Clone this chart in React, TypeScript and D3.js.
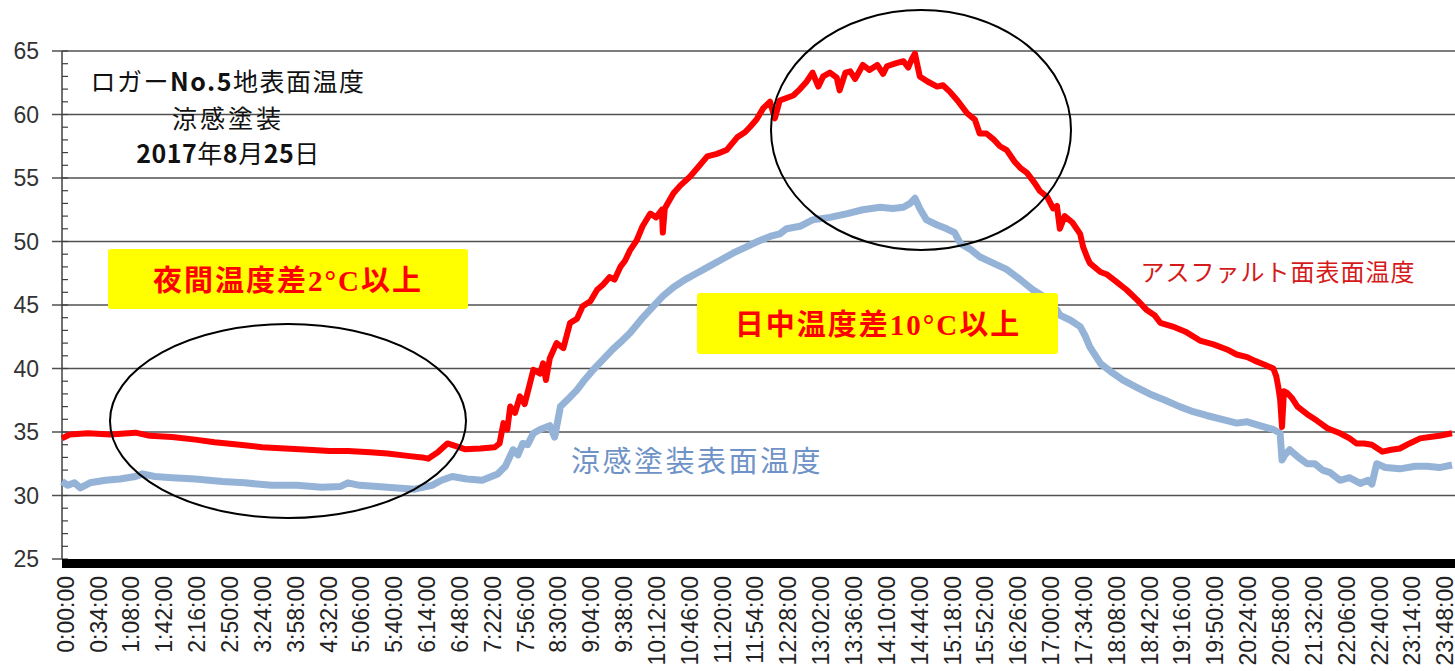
import React from "react";
import * as d3 from "d3";

// x-axis tick labels (every 34 minutes)
const timeLabels = [
  "0:00:00", "0:34:00", "1:08:00", "1:42:00", "2:16:00", "2:50:00", "3:24:00", "3:58:00",
  "4:32:00", "5:06:00", "5:40:00", "6:14:00", "6:48:00", "7:22:00", "7:56:00", "8:30:00",
  "9:04:00", "9:38:00", "10:12:00", "10:46:00", "11:20:00", "11:54:00", "12:28:00", "13:02:00",
  "13:36:00", "14:10:00", "14:44:00", "15:18:00", "15:52:00", "16:26:00", "17:00:00", "17:34:00",
  "18:08:00", "18:42:00", "19:16:00", "19:50:00", "20:24:00", "20:58:00", "21:32:00", "22:06:00",
  "22:40:00", "23:14:00", "23:48:00",
];
const yTicks = [25, 30, 35, 40, 45, 50, 55, 60, 65];

// [minute of day, temperature °C]
const asphalt: [number, number][] = [
  [0, 34.5], [8, 34.8], [27, 34.9], [50, 34.8], [76, 34.95], [91, 34.7], [114, 34.6], [138, 34.4],
  [158, 34.2], [184, 34.0], [207, 33.8], [231, 33.7], [255, 33.6], [277, 33.5], [296, 33.5], [319, 33.4],
  [337, 33.3], [360, 33.1], [373, 33.0], [379, 32.9], [389, 33.4], [399, 34.1], [407, 33.9], [417, 33.65],
  [433, 33.7], [448, 33.8], [453, 34.1], [457, 35.7], [461, 35.2], [464, 37.0], [469, 36.5], [474, 37.8],
  [479, 37.2], [488, 39.9], [495, 39.6], [498, 40.4], [501, 39.1], [505, 40.8], [512, 42.0], [519, 41.6],
  [526, 43.6], [533, 43.9], [539, 44.9], [547, 45.3], [554, 46.2], [560, 46.6], [567, 47.2], [572, 47.0],
  [578, 48.0], [583, 48.5], [588, 49.3], [595, 50.1], [601, 51.2], [609, 52.2], [615, 51.9], [621, 52.5],
  [622, 50.7], [624, 52.6], [633, 53.8], [640, 54.4], [650, 55.1], [658, 55.8], [668, 56.7], [678, 56.9],
  [688, 57.2], [699, 58.2], [707, 58.6], [712, 59.0], [719, 59.6], [726, 60.5], [733, 61.0], [738, 59.7],
  [743, 61.1], [750, 61.3], [757, 61.5], [764, 62.0], [771, 62.6], [777, 63.3], [783, 62.2], [788, 63.0],
  [795, 63.3], [802, 62.9], [805, 61.9], [811, 63.3], [816, 63.4], [821, 62.8], [829, 63.9], [836, 63.5],
  [844, 63.9], [850, 63.2], [854, 63.8], [862, 64.0], [871, 64.2], [876, 63.7], [880, 64.4], [883, 64.8],
  [888, 63.0], [896, 62.6], [906, 62.2], [912, 62.3], [919, 61.8], [927, 61.1], [937, 60.1], [945, 59.6],
  [950, 58.5], [957, 58.5], [965, 58.0], [971, 57.5], [978, 57.2], [986, 56.3], [992, 55.8], [999, 55.4],
  [1007, 54.6], [1012, 54.0], [1020, 53.5], [1026, 52.6], [1030, 52.8], [1033, 51.0], [1038, 52.0], [1046, 51.5],
  [1054, 50.6], [1057, 49.6], [1061, 48.8], [1064, 48.3], [1075, 47.6], [1082, 47.4], [1092, 46.8], [1102, 46.2],
  [1113, 45.4], [1123, 44.6], [1131, 44.2], [1137, 43.6], [1150, 43.3], [1163, 42.9], [1178, 42.2], [1192, 41.9],
  [1206, 41.5], [1216, 41.1], [1227, 40.9], [1235, 40.6], [1245, 40.3], [1254, 40.0], [1257, 39.4], [1259, 38.6],
  [1261, 37.6], [1263, 35.4], [1265, 38.2], [1268, 38.1], [1273, 37.7], [1279, 37.0], [1289, 36.4], [1299, 35.9],
  [1310, 35.3], [1323, 34.9], [1333, 34.5], [1340, 34.1], [1348, 34.1], [1356, 34.0], [1367, 33.45], [1376, 33.6],
  [1385, 33.7], [1395, 34.1], [1406, 34.5], [1416, 34.6], [1426, 34.7], [1439, 34.9],
];

const coating: [number, number][] = [
  [0, 31.1], [6, 30.8], [13, 31.0], [19, 30.6], [29, 31.0], [45, 31.2], [60, 31.3], [76, 31.5],
  [83, 31.7], [96, 31.5], [114, 31.4], [138, 31.3], [166, 31.1], [189, 31.0], [217, 30.8], [243, 30.8],
  [269, 30.65], [288, 30.7], [296, 31.0], [308, 30.8], [337, 30.65], [365, 30.5], [383, 30.8], [393, 31.2],
  [404, 31.5], [419, 31.3], [435, 31.2], [451, 31.7], [459, 32.3], [467, 33.6], [472, 33.2], [477, 34.1],
  [482, 34.0], [488, 34.9], [495, 35.2], [505, 35.5], [510, 34.6], [516, 37.0], [524, 37.6], [533, 38.3],
  [541, 39.1], [550, 39.9], [560, 40.7], [570, 41.5], [580, 42.2], [588, 42.8], [600, 43.9], [612, 44.9],
  [622, 45.7], [633, 46.4], [645, 47.0], [657, 47.5], [669, 48.0], [681, 48.5], [695, 49.1], [709, 49.6],
  [720, 50.0], [733, 50.4], [743, 50.6], [750, 51.0], [764, 51.2], [777, 51.7], [795, 51.9], [813, 52.2],
  [829, 52.5], [847, 52.7], [860, 52.6], [871, 52.7], [878, 53.0], [883, 53.4], [888, 52.6], [895, 51.7],
  [906, 51.3], [916, 51.0], [924, 50.7], [930, 49.85], [940, 49.4], [950, 48.8], [964, 48.3], [978, 47.8],
  [992, 47.0], [1005, 46.2], [1018, 45.6], [1023, 45.0], [1030, 44.6], [1033, 44.2], [1044, 43.8], [1054, 43.3],
  [1059, 42.6], [1064, 41.7], [1075, 40.4], [1085, 39.8], [1098, 39.1], [1113, 38.5], [1126, 38.0], [1142, 37.5],
  [1157, 37.0], [1171, 36.6], [1185, 36.3], [1206, 35.9], [1216, 35.7], [1227, 35.8], [1240, 35.5], [1254, 35.2],
  [1261, 34.9], [1263, 32.8], [1266, 33.2], [1271, 33.6], [1280, 33.0], [1289, 32.5], [1297, 32.5], [1305, 32.0],
  [1313, 31.8], [1323, 31.2], [1333, 31.4], [1344, 30.95], [1352, 31.2], [1356, 30.9], [1361, 32.5], [1370, 32.2],
  [1385, 32.1], [1401, 32.3], [1413, 32.3], [1426, 32.2], [1439, 32.4],
];

const W = 1455, H = 671;
const left = 62, right = 1453, top = 51, bottom = 559;

const toMinutes = (s: string) => {
  const p = s.split(":");
  return +p[0] * 60 + +p[1];
};

export default function App() {
  const x = d3.scaleLinear().domain([0, 1440]).range([left, right]);
  const y = d3.scaleLinear().domain([25, 65]).range([bottom, top]);
  const line = d3.line<[number, number]>()
    .x(d => x(d[0]))
    .y(d => y(d[1]));

  const minor = d3.range(25, 66, 1);
  const axisFont = "'Liberation Sans', Arial, sans-serif";
  const jpFont = "'Noto Sans CJK JP', sans-serif";
  const boxFont = "'Liberation Serif', 'Noto Sans CJK JP', serif";

  return (
    <svg width={W} height={H} style={{ position: "absolute", left: 0, top: 0, background: "#fff" }}>
      {/* grid lines */}
      {yTicks.filter(t => t > 25).map(t => (
        <line key={t} x1={52} x2={W} y1={y(t)} y2={y(t)} stroke="#505050" strokeWidth={1.5} />
      ))}
      {/* y axis */}
      <line x1={left} x2={left} y1={top} y2={bottom} stroke="#404040" strokeWidth={1.5} />
      {minor.map(t => (
        <line key={"m" + t} x1={left} x2={left + 6} y1={y(t)} y2={y(t)} stroke="#404040" strokeWidth={1.2} />
      ))}
      {yTicks.map(t => (
        <text key={"yl" + t} x={39} y={y(t)} dy="0.36em" textAnchor="end"
          fontFamily={axisFont} fontSize={23} fill="#333">{t}</text>
      ))}
      {/* x axis: dense per-minute ticks form a black band */}
      <line x1={52} x2={left} y1={bottom} y2={bottom} stroke="#505050" strokeWidth={1.5} />
      <rect x={left} y={bottom} width={W - left} height={9} fill="#000" />
      {timeLabels.map(lb => {
        const cx = x(toMinutes(lb)) + 3.5;
        return (
          <text key={lb} transform={`translate(${cx},576) rotate(-90)`} dy="0.36em" textAnchor="end"
            fontFamily={axisFont} fontSize={23} fill="#222">{lb}</text>
        );
      })}

      {/* series */}
      <path d={line(coating) || ""} fill="none" stroke="#95B3D7" strokeWidth={7} strokeLinejoin="round" />
      <path d={line(asphalt) || ""} fill="none" stroke="#FF0000" strokeWidth={6} strokeLinejoin="round" />

      {/* ellipses */}
      <ellipse cx={288} cy={421} rx={178} ry={97} fill="none" stroke="#000" strokeWidth={2} />
      <ellipse cx={921} cy={130} rx={150} ry={120} fill="none" stroke="#000" strokeWidth={2} />

      {/* title */}
      <text x={228} y={82} dy="0.35em" textAnchor="middle" fontFamily={jpFont} fontSize={25} letterSpacing={1.5} fill="#111">
        ロガー<tspan fontWeight="bold">No.5</tspan>地表面温度
      </text>
      <text x={228} y={119} dy="0.35em" textAnchor="middle" fontFamily={jpFont} fontSize={25} letterSpacing={3} fill="#111">
        涼感塗装
      </text>
      <text x={228} y={154} dy="0.35em" textAnchor="middle" fontFamily={jpFont} fontSize={25} letterSpacing={0.5} fill="#111">
        <tspan fontWeight="bold">2017</tspan>年<tspan fontWeight="bold">8</tspan>月<tspan fontWeight="bold">25</tspan>日
      </text>

      {/* annotation boxes */}
      <rect x={108} y={249} width={360} height={60} rx={3} fill="#FFFF00" />
      <text x={288} y={281} dy="0.35em" textAnchor="middle" fontFamily={boxFont} fontWeight="bold"
        fontSize={29} letterSpacing={2} fill="#FF0000">夜間温度差2°C以上</text>
      <rect x={697} y={293} width={361} height={61} rx={3} fill="#FFFF00" />
      <text x={878} y={325} dy="0.35em" textAnchor="middle" fontFamily={boxFont} fontWeight="bold"
        fontSize={29} letterSpacing={2} fill="#FF0000">日中温度差10°C以上</text>

      {/* series labels */}
      <text x={1278} y={273} dy="0.35em" textAnchor="middle" fontFamily={jpFont} fontSize={24}
        letterSpacing={1} fill="#D41A1A">アスファルト面表面温度</text>
      <text x={697} y={462} dy="0.35em" textAnchor="middle" fontFamily={jpFont} fontSize={29}
        letterSpacing={2.5} fill="#6F93C6">涼感塗装表面温度</text>
    </svg>
  );
}
